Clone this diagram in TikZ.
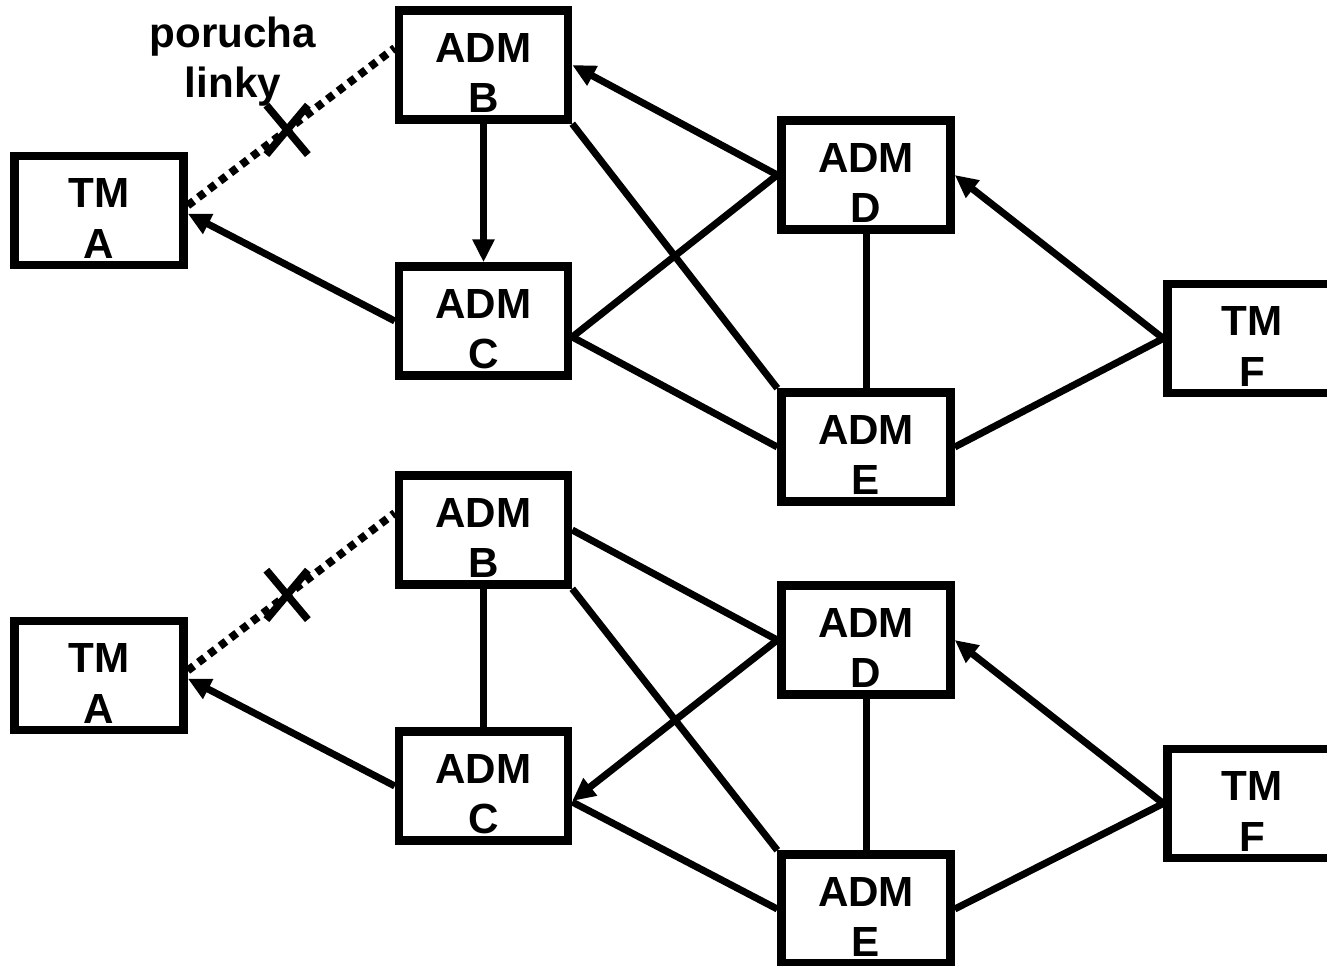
\documentclass[tikz,border=0pt]{standalone}
\usepackage{fontspec}
\setmainfont{Liberation Sans}
\usetikzlibrary{arrows.meta,shapes.misc}

\tikzset{
	mux/.style={draw, line width=0.17cm, minimum width=3.38cm, minimum height=2.18cm, inner sep=0pt, align=center, font=\fontsize{24}{28.5}\selectfont\bfseries},
	note/.style={align=center, font=\fontsize{24}{28.5}\selectfont\bfseries},
	link/.style={line width=0.14cm},
	arr/.style={line width=0.14cm, -{Triangle[length=0.46cm,width=0.42cm]}},
	broken/.style={line width=0.16cm, dash pattern=on 0.15cm off 0.12cm},
	cut/.style={solid, draw, cross out, line width=0.15cm, minimum width=0.68cm, minimum height=0.84cm, inner sep=0pt}
}
\newcommand{\boxtext}[2]{\rule{0pt}{0.9cm}#1\\#2}

\begin{document}
\begin{tikzpicture}[x=0.02cm, y=0.02cm]
	\useasboundingbox (0,0) rectangle (1327,965);
	% upper network: boxes
	\node[mux] (A1) at (99,754.5) {\boxtext{TM}{A}};
	\node[mux] (B1) at (483.5,900) {\boxtext{ADM}{B}};
	\node[mux] (C1) at (483.5,644) {\boxtext{ADM}{C}};
	\node[mux] (D1) at (866,790) {\boxtext{ADM}{D}};
	\node[mux] (E1) at (866,518) {\boxtext{ADM}{E}};
	\node[mux] (F1) at (1252,626.5) {\boxtext{TM}{F}};
	% fault label
	\node[note] (fault) at (233,903) {porucha\\linky};
	% upper network: links
	\draw[broken] ([yshift=0.1cm]A1.east) -- node[cut, pos=0.48] (x1) {} ([yshift=0.34cm]B1.west);
	\draw[arr] (C1.west) -- ([yshift=-0.06cm]A1.east);
	\draw[arr] (B1.south) -- (C1.north);
	\draw[arr] (D1.west) -- (B1.east);
	\draw[link] (B1.south east) -- (E1.north west);
	\draw[link] ([yshift=-0.32cm]C1.east) -- (D1.west);
	\draw[link] ([yshift=-0.32cm]C1.east) -- (E1.west);
	\draw[link] (D1.south) -- (E1.north);
	\draw[arr] (F1.west) -- (D1.east);
	\draw[link] (F1.west) -- (E1.east);

	% lower network: boxes
	\node[mux] (A2) at (99,289.5) {\boxtext{TM}{A}};
	\node[mux] (B2) at (483.5,435) {\boxtext{ADM}{B}};
	\node[mux] (C2) at (483.5,179) {\boxtext{ADM}{C}};
	\node[mux] (D2) at (866,325) {\boxtext{ADM}{D}};
	\node[mux] (E2) at (866,56) {\boxtext{ADM}{E}};
	\node[mux] (F2) at (1252,161.5) {\boxtext{TM}{F}};
	% lower network: links
	\draw[broken] ([yshift=0.1cm]A2.east) -- node[cut, pos=0.48] (x2) {} ([yshift=0.34cm]B2.west);
	\draw[arr] (C2.west) -- ([yshift=-0.06cm]A2.east);
	\draw[link] (B2.south) -- (C2.north);
	\draw[link] (B2.east) -- (D2.west);
	\draw[link] (B2.south east) -- (E2.north west);
	\draw[arr] (D2.west) -- ([yshift=-0.3cm]C2.east);
	\draw[link] ([yshift=-0.32cm]C2.east) -- (E2.west);
	\draw[link] (D2.south) -- (E2.north);
	\draw[arr] (F2.west) -- (D2.east);
	\draw[link] (F2.west) -- (E2.east);
\end{tikzpicture}
\end{document}
